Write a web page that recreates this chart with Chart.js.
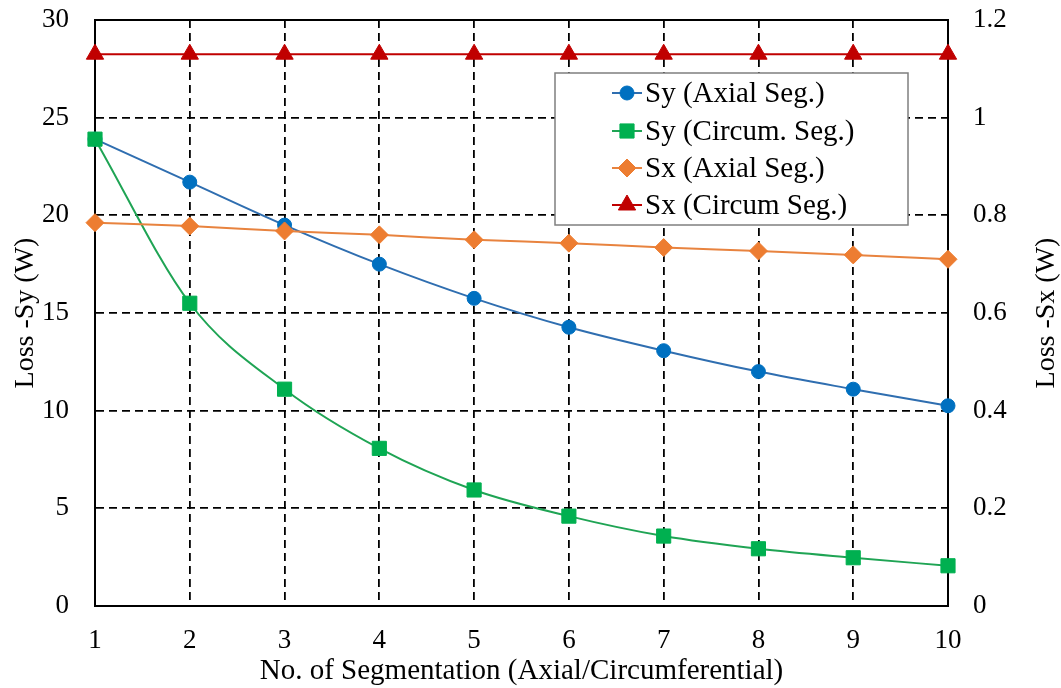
<!DOCTYPE html>
<html>
<head>
<meta charset="utf-8">
<script src="https://cdn.jsdelivr.net/npm/chart.js@4/dist/chart.umd.min.js"></script>
<style>
  body { margin: 0; background: #fff; }
  canvas { display: block; }
</style>
</head>
<body>
<canvas id="lossChart" width="1061" height="688"></canvas>
<script>
// Data
const segments = [1, 2, 3, 4, 5, 6, 7, 8, 9, 10];
const syAxial = [23.9, 21.7, 19.5, 17.5, 15.75, 14.27, 13.07, 12.0, 11.1, 10.25];
const syCircum = [23.9, 15.5, 11.1, 8.07, 5.94, 4.6, 3.58, 2.93, 2.47, 2.06];
const sxAxial = [0.785, 0.778, 0.768, 0.76, 0.75, 0.743, 0.734, 0.727, 0.719, 0.71];
const sxCircum = [1.13, 1.13, 1.13, 1.13, 1.13, 1.13, 1.13, 1.13, 1.13, 1.13];

const xTicks = [1, 2, 3, 4, 5, 6, 7, 8, 9, 10];
const leftTicks = [0, 5, 10, 15, 20, 25, 30];
const rightTicks = [0, 0.2, 0.4, 0.6, 0.8, 1, 1.2];
const rightTickLabels = ['0', '0.2', '0.4', '0.6', '0.8', '1', '1.2'];

const FONT = '"Liberation Serif", "Times New Roman", serif';

function points(values) {
    return segments.map((x, i) => ({ x: x, y: values[i] }));
}

const seriesStyle = [
    { label: 'Sy (Axial Seg.)', color: '#0070C0', line: '#2F6EB0', shape: 'circle', r: 7 },
    { label: 'Sy (Circum. Seg.)', color: '#00B050', line: '#1FA454', shape: 'rect', r: 10 },
    { label: 'Sx (Axial Seg.)', color: '#ED7D31', line: '#E8833F', shape: 'rectRot', r: 9 },
    { label: 'Sx (Circum Seg.)', color: '#C00000', line: '#C00000', shape: 'triangle', r: 10 }
];

// frame around the plot area + right axis title (reads bottom to top)
const framePlugin = {
    id: 'frame',
    beforeDatasetsDraw(chart) {
        const { ctx, chartArea: a } = chart;
        ctx.save();
        ctx.strokeStyle = '#000';
        ctx.lineWidth = 2;
        ctx.strokeRect(a.left, a.top, a.right - a.left, a.bottom - a.top);
        ctx.translate(1047, (a.top + a.bottom) / 2);
        ctx.rotate(-Math.PI / 2);
        ctx.fillStyle = '#000';
        ctx.font = '28px ' + FONT;
        ctx.textAlign = 'center';
        ctx.textBaseline = 'middle';
        ctx.fillText('Loss -Sx (W)', 0, 0);
        ctx.restore();
    }
};

// legend box inside the plot, like the original
const boxLegend = {
    id: 'boxLegend',
    afterDatasetsDraw(chart) {
        const ctx = chart.ctx;
        const bx = 555, by = 73, bw = 353, bh = 152;
        ctx.save();
        ctx.fillStyle = '#fff';
        ctx.fillRect(bx, by, bw, bh);
        ctx.strokeStyle = '#7f7f7f';
        ctx.lineWidth = 1.5;
        ctx.strokeRect(bx, by, bw, bh);
        const rows = [93, 131, 168, 205];
        seriesStyle.forEach((s, i) => {
            const y = rows[i];
            ctx.strokeStyle = s.line;
            ctx.lineWidth = 2;
            ctx.beginPath();
            ctx.moveTo(612, y);
            ctx.lineTo(642, y);
            ctx.stroke();
            ctx.fillStyle = s.color;
            ctx.strokeStyle = s.color;
            ctx.lineWidth = 1;
            Chart.helpers.drawPoint(ctx, { pointStyle: s.shape, radius: s.r, rotation: 0, borderWidth: 1 }, 627, y);
            ctx.fillStyle = '#000';
            ctx.font = '29px ' + FONT;
            ctx.textAlign = 'left';
            ctx.textBaseline = 'middle';
            ctx.fillText(s.label, 645, y + 1);
        });
        ctx.restore();
    }
};

// dashed black grid; tick marks are invisible and only space the labels
const dashGrid = { color: '#000', lineWidth: 1.8, drawTicks: true, tickColor: 'rgba(0,0,0,0)' };
const dashBorder = { display: true, color: '#000', width: 2, dash: [8, 5] };

const ctx = document.getElementById('lossChart').getContext('2d');
const lossChart = new Chart(ctx, {
    type: 'line',
    data: {
        datasets: [
            { data: points(syAxial), yAxisID: 'y', order: 4 },
            { data: points(syCircum), yAxisID: 'y', order: 3 },
            { data: points(sxAxial), yAxisID: 'y1', order: 2 },
            { data: points(sxCircum), yAxisID: 'y1', order: 1 }
        ].map((d, i) => Object.assign(d, {
            label: seriesStyle[i].label,
            borderColor: seriesStyle[i].line,
            backgroundColor: seriesStyle[i].color,
            pointBackgroundColor: seriesStyle[i].color,
            pointBorderColor: seriesStyle[i].color,
            pointStyle: seriesStyle[i].shape,
            pointRadius: seriesStyle[i].r,
            pointBorderWidth: 1,
            borderWidth: 2,
            cubicInterpolationMode: 'monotone',
            fill: false,
            clip: false
        }))
    },
    options: {
        responsive: false,
        animation: false,
        layout: { padding: { top: 20, left: 0, right: 0, bottom: 0 } },
        plugins: { legend: { display: false }, tooltip: { enabled: false } },
        scales: {
            x: {
                type: 'linear',
                min: 1,
                max: 10,
                afterBuildTicks: s => { s.ticks = xTicks.map(v => ({ value: v })); },
                afterFit: s => { s.height = 82; },
                ticks: { color: '#000', font: { family: FONT, size: 27 }, padding: 0, maxRotation: 0 },
                grid: Object.assign({ tickLength: 19 }, dashGrid),
                border: dashBorder,
                title: {
                    display: true,
                    text: 'No. of Segmentation (Axial/Circumferential)',
                    color: '#000',
                    font: { family: FONT, size: 29, lineHeight: 1.1 },
                    padding: { top: 0, bottom: 1 }
                }
            },
            y: {
                position: 'left',
                min: 0,
                max: 30,
                afterBuildTicks: s => { s.ticks = leftTicks.map(v => ({ value: v })); },
                afterFit: s => { s.width = 95; },
                ticks: { color: '#000', font: { family: FONT, size: 27 }, padding: 0 },
                grid: Object.assign({ tickLength: 26 }, dashGrid),
                border: dashBorder,
                title: {
                    display: true,
                    text: 'Loss -Sy (W)',
                    color: '#000',
                    font: { family: FONT, size: 28, lineHeight: 1.1 },
                    padding: { top: 10, bottom: 0 }
                }
            },
            y1: {
                position: 'right',
                min: 0,
                max: 1.2,
                afterBuildTicks: s => { s.ticks = rightTicks.map(v => ({ value: v })); },
                afterFit: s => { s.width = 113; },
                ticks: {
                    color: '#000',
                    font: { family: FONT, size: 27 },
                    padding: 0,
                    callback: (v, i) => rightTickLabels[i]
                },
                grid: { drawOnChartArea: false, drawTicks: true, tickLength: 25, tickColor: 'rgba(0,0,0,0)' },
                border: { display: true, color: '#000', width: 2 },
                title: { display: false }
            }
        }
    },
    plugins: [framePlugin, boxLegend]
});
</script>
</body>
</html>
